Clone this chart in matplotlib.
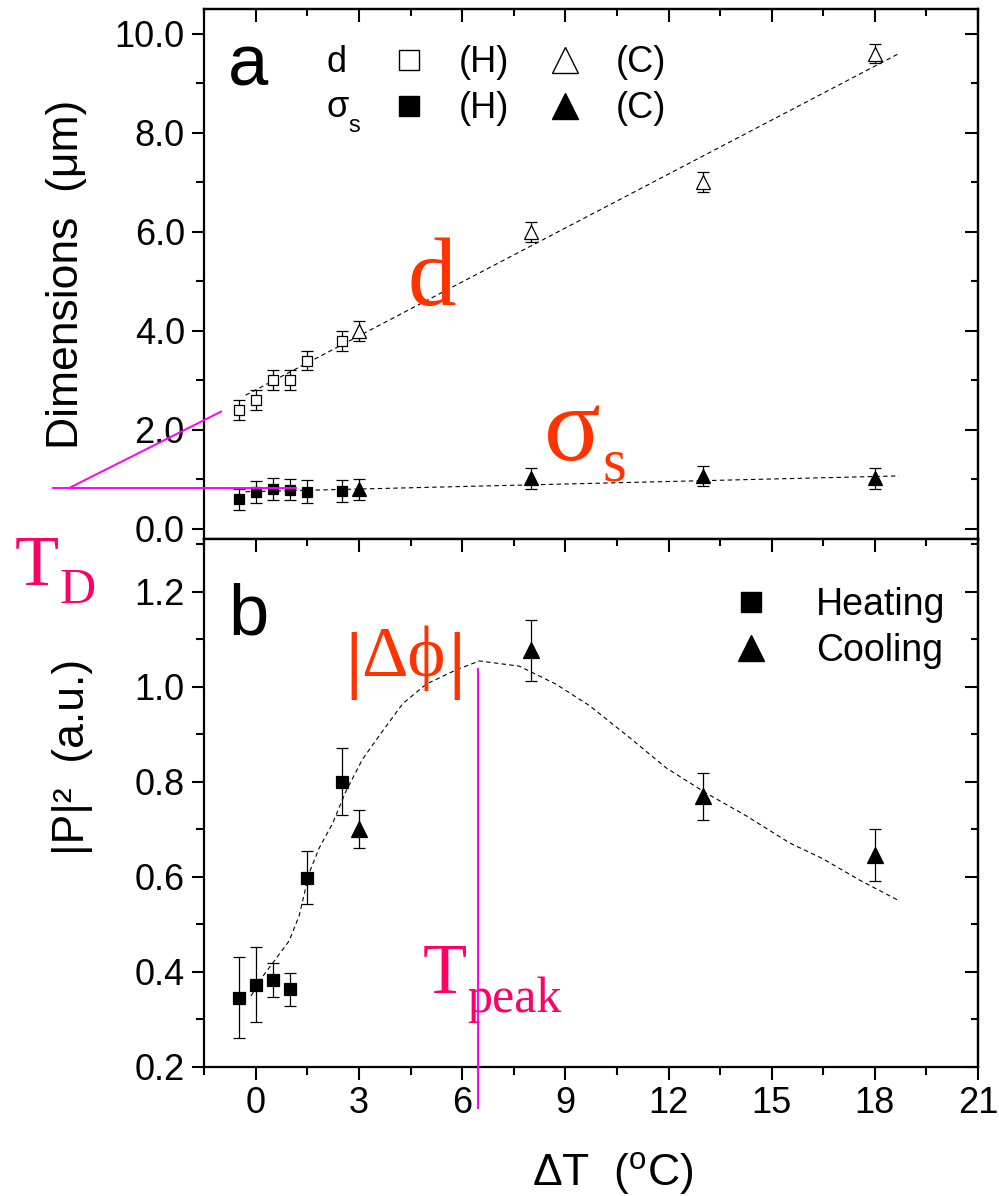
import matplotlib
matplotlib.use('Agg')
import matplotlib.pyplot as plt
from matplotlib.lines import Line2D
from matplotlib.ticker import MultipleLocator, FormatStrFormatter

plt.rcParams['font.family'] = ['Liberation Sans', 'DejaVu Sans']
plt.rcParams['mathtext.fontset'] = 'custom'
plt.rcParams['mathtext.rm'] = 'Liberation Sans'
plt.rcParams['mathtext.it'] = 'Liberation Sans:italic'

# ---- data ----
x_heat = [-0.5, 0.0, 0.5, 1.0, 1.5, 2.5]
x_cool = [3, 8, 13, 18]

# panel a: dimensions (um)
d_heat = [2.4, 2.6, 3.0, 3.0, 3.4, 3.8]
d_heat_err = [0.2, 0.2, 0.2, 0.2, 0.2, 0.2]
d_cool = [4.0, 6.0, 7.0, 9.6]
d_cool_err = [0.2, 0.2, 0.2, 0.2]
sig_heat = [0.6, 0.74, 0.8, 0.79, 0.75, 0.76]
sig_heat_err = [0.21, 0.22, 0.22, 0.21, 0.23, 0.22]
sig_cool = [0.8, 1.02, 1.07, 1.02]
sig_cool_err = [0.21, 0.21, 0.21, 0.21]
fit_x_a = [-0.3, 18.7]
fit_d = [2.7, 9.6]
fit_sig = [0.75, 1.07]

# panel b: |P|^2 (a.u.)
p_heat = [0.345, 0.373, 0.383, 0.363, 0.598, 0.80]
p_heat_err = [0.085, 0.078, 0.036, 0.035, 0.055, 0.07]
p_cool = [0.70, 1.076, 0.769, 0.645]
p_cool_err = [0.04, 0.065, 0.05, 0.055]
fit_x_b = [-0.14, 0.2, 0.59, 0.97, 1.26, 1.55, 1.84, 2.23, 2.62, 3.1, 3.69, 4.27,
           4.95, 5.82, 6.5, 7.66, 8.73, 9.7, 10.86, 11.93, 13.09, 14.26, 15.52,
           16.48, 17.55, 18.66]
fit_p = [0.349, 0.39, 0.428, 0.465, 0.518, 0.608, 0.66, 0.712, 0.78, 0.847, 0.907,
         0.964, 1.005, 1.035, 1.054, 1.043, 1.005, 0.96, 0.893, 0.829, 0.776, 0.728,
         0.671, 0.638, 0.593, 0.551]

t_peak = 6.46
t_d_level = 0.83

RED = '#ff3300'
PINK = '#ff0066'
MAG = '#ff00ff'
TICKFS = 26
SERIF = ['Liberation Serif', 'DejaVu Serif']

W, H = 999, 1196
fig = plt.figure(figsize=(W / 100, H / 100), dpi=100)
left, right = 204.3, 978
ax_a = fig.add_axes([left / W, 1 - 539.3 / H, (right - left) / W, (539.3 - 9) / H])
ax_b = fig.add_axes([left / W, 1 - 1066.7 / H, (right - left) / W, (1066.7 - 539.3) / H])


def style_axes(ax, ymaj, ymin, fmt, labelbottom):
    ax.set_xlim(-1.5, 21)
    ax.xaxis.set_major_locator(MultipleLocator(3))
    ax.xaxis.set_minor_locator(MultipleLocator(1.5))
    ax.yaxis.set_major_locator(MultipleLocator(ymaj))
    ax.yaxis.set_minor_locator(MultipleLocator(ymin))
    ax.yaxis.set_major_formatter(FormatStrFormatter(fmt))
    ax.tick_params(which='major', direction='out', length=9, width=1.5,
                   labelsize=TICKFS, pad=5, labelbottom=labelbottom)
    ax.tick_params(which='minor', direction='out', length=5.5, width=1.5)
    for s in ax.spines.values():
        s.set_linewidth(1.6)
    top = ax.secondary_xaxis('top')
    top.xaxis.set_major_locator(MultipleLocator(3))
    top.xaxis.set_minor_locator(MultipleLocator(1.5))
    top.tick_params(which='major', direction='in', length=9.5, width=1.5, labeltop=False)
    top.tick_params(which='minor', direction='in', length=5, width=1.5)
    rgt = ax.secondary_yaxis('right')
    rgt.yaxis.set_major_locator(MultipleLocator(ymaj))
    rgt.yaxis.set_minor_locator(MultipleLocator(ymin))
    rgt.tick_params(which='major', direction='in', length=9.5, width=1.5, labelright=False)
    rgt.tick_params(which='minor', direction='in', length=5, width=1.5)
    for sec in (top, rgt):
        for s in sec.spines.values():
            s.set_linewidth(1.6)


eb = dict(ecolor='k', elinewidth=0.9, capsize=4, capthick=0.9, mec='k', mew=0.9, zorder=3)

# ---- panel a ----
ax = ax_a
ax.plot(fit_x_a, fit_d, color='k', lw=0.8, dashes=(4, 3), zorder=2)
ax.plot(fit_x_a, fit_sig, color='k', lw=0.8, dashes=(4, 3), zorder=2)
ax.errorbar(x_heat, d_heat, yerr=d_heat_err, fmt='s', ms=7.5, mfc='white', **eb)
ax.errorbar(x_cool, d_cool, yerr=d_cool_err, fmt='^', ms=9.5, mfc='white', **eb)
ax.errorbar(x_heat, sig_heat, yerr=sig_heat_err, fmt='s', ms=7.5, mfc='k', **eb)
ax.errorbar(x_cool, sig_cool, yerr=sig_cool_err, fmt='^', ms=9.5, mfc='k', **eb)
ax.set_ylim(-0.21, 10.5)
style_axes(ax, 2, 1, '%.1f', False)
ax.set_ylabel('Dimensions  (μm)', fontsize=32)
ax.yaxis.set_label_coords(-0.152, 0.5)

handles = [Line2D([], [], ls='none', marker='s', ms=14, mfc='white', mec='k', mew=1),
           Line2D([], [], ls='none', marker='s', ms=14, mfc='k', mec='k'),
           Line2D([], [], ls='none', marker='^', ms=19, mfc='white', mec='k', mew=1),
           Line2D([], [], ls='none', marker='^', ms=19, mfc='k', mec='k')]
ax.legend(handles, ['(H)', '(H)', '(C)', '(C)'], ncol=2, loc='upper left',
          bbox_to_anchor=(0.241, 0.9315), frameon=False, fontsize=TICKFS,
          handlelength=1.0, handletextpad=0.89, columnspacing=1.05,
          labelspacing=0.3, borderpad=0, borderaxespad=0)
ax.text(2.05, 9.23, 'd', fontsize=TICKFS)
ax.text(2.05, 8.32, 'σ', fontsize=TICKFS)
ax.text(2.7, 8.02, 's', fontsize=17)
ax.text(0.0306, 0.855, 'a', fontsize=52, transform=ax.transAxes)

ax.text(4.41, 4.53, 'd', fontsize=70, family=SERIF, color=RED)
ax.text(8.38, 1.40, 'σ', fontsize=76, family=SERIF, color=RED)
ax.text(10.07, 0.98, 's', fontsize=44, family=SERIF, color=RED)

# T_D guide lines
ax.plot([-5.89, 1.17], [t_d_level, t_d_level], color=MAG, lw=1.4, clip_on=False, zorder=4)
ax.plot([-5.42, -1.01], [t_d_level, 2.37], color=MAG, lw=1.4, clip_on=False, zorder=4)

# ---- panel b ----
ax = ax_b
ax.plot(fit_x_b, fit_p, color='k', lw=0.8, dashes=(4, 3), zorder=2)
ax.errorbar(x_heat, p_heat, yerr=p_heat_err, fmt='s', ms=8.5, mfc='k', **eb)
ax.errorbar(x_cool, p_cool, yerr=p_cool_err, fmt='^', ms=12, mfc='k', **eb)
ax.set_ylim(0.2, 1.31)
style_axes(ax, 0.2, 0.1, '%.1f', True)
ax.set_ylabel('|P|²  (a.u.)', fontsize=32)
ax.yaxis.set_label_coords(-0.144, 0.587)
ax.set_xlabel(r'$\Delta$T  ($^{\mathrm{o}}$C)', fontsize=32)
ax.xaxis.set_label_coords(0.528, -0.158)

hb = [Line2D([], [], ls='none', marker='s', ms=15, mfc='k', mec='k'),
      Line2D([], [], ls='none', marker='^', ms=19, mfc='k', mec='k')]
ax.legend(hb, ['Heating', 'Cooling'], loc='upper left', bbox_to_anchor=(0.683, 0.909),
          frameon=False, fontsize=27, handlelength=1.0, handletextpad=1.23,
          labelspacing=0.26, borderpad=0, borderaxespad=0)
ax.text(0.0306, 0.82, 'b', fontsize=52, transform=ax.transAxes)

ax.plot([t_peak, t_peak], [1.036, 0.113], color=MAG, lw=1.4, clip_on=False, zorder=4)
ax.text(2.6, 1.005, '|', fontsize=54, fontweight='bold', family=SERIF, color=RED)
ax.text(3.06, 1.022, 'Δϕ', fontsize=52, family=SERIF, color=RED)
ax.text(5.6, 1.005, '|', fontsize=54, fontweight='bold', family=SERIF, color=RED)
ax.text(4.84, 0.355, 'T', fontsize=52, family=SERIF, color=PINK)
ax.text(6.15, 0.315, 'peak', fontsize=36, family=SERIF, color=PINK)

fig.text(15 / W, 1 - 585 / H, 'T', fontsize=52, family=SERIF, color=PINK)
fig.text(60 / W, 1 - 603 / H, 'D', fontsize=36, family=SERIF, color=PINK)

fig.savefig('out.png', dpi=100)
